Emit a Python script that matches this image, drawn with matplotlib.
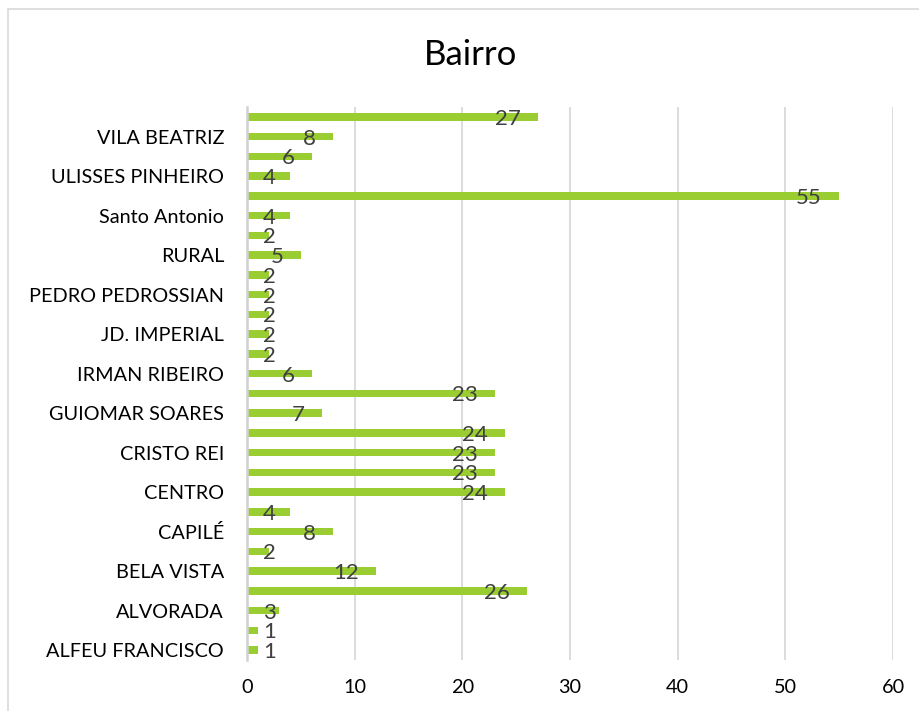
import matplotlib
matplotlib.use("Agg")
import matplotlib.pyplot as plt
from matplotlib.patches import Rectangle

# Neighbourhoods, bottom to top (Excel hides every other label)
bairros = [
    "ALFEU FRANCISCO", "", "ALVORADA", "", "BELA VISTA", "", "CAPILÉ", "",
    "CENTRO", "", "CRISTO REI", "", "GUIOMAR SOARES", "", "IRMAN RIBEIRO", "",
    "JD. IMPERIAL", "", "PEDRO PEDROSSIAN", "", "RURAL", "", "Santo Antonio", "",
    "ULISSES PINHEIRO", "", "VILA BEATRIZ", "",
]
valores = [1, 1, 3, 26, 12, 2, 8, 4, 24, 23, 23, 24, 7, 23, 6, 2,
           2, 2, 2, 2, 5, 2, 4, 55, 4, 6, 8, 27]
xticks = [0, 10, 20, 30, 40, 50, 60]

plt.rcParams["font.family"] = ["Lato", "DejaVu Sans"]

fig = plt.figure(figsize=(9.2, 7.11), dpi=100)
ax = fig.add_axes([0.2685, 0.0717, 0.7022, 0.7778])

# Chart border
fig.patches.append(Rectangle((8 / 920, -0.05), 1.0, 1 - 9 / 711 + 0.05,
                             transform=fig.transFigure, fill=False,
                             edgecolor="#d9d9d9", linewidth=1.2))

pos = list(range(len(valores)))
ax.barh(pos, valores, height=0.37, color="#9acd32", zorder=3)

# Data labels at the inside end, pushed right when the bar is too short
for y, v in zip(pos, valores):
    w = 0.95 * len(str(v))
    xr = v - 1.6
    if xr - w < 1.5:
        ax.text(1.5, y - 0.1, str(v), ha="left", va="center",
                fontsize=16, color="#404040", zorder=4)
    else:
        ax.text(xr, y - 0.1, str(v), ha="right", va="center",
                fontsize=16, color="#404040", zorder=4)

ax.set_xlim(0, 60)
ax.set_ylim(-0.5, len(valores) - 0.5)
ax.set_xticks(xticks)
ax.set_yticks(pos)
ax.set_yticklabels(bairros)
ax.tick_params(axis="both", length=0, labelsize=14.3, colors="#000000")
ax.tick_params(axis="x", pad=14)
ax.tick_params(axis="y", pad=16.5)

ax.grid(axis="x", color="#d9d9d9", linewidth=1.3, zorder=0)
for side in ["top", "right", "bottom"]:
    ax.spines[side].set_visible(False)
ax.spines["left"].set_color("#d0d0d0")
ax.spines["left"].set_linewidth(1.8)
ax.spines["left"].set_zorder(5)

fig.text(0.511, 1 - 55 / 711, "Bairro", ha="center", va="center",
         fontsize=25, color="#000000")

fig.savefig("out.png", dpi=100)
